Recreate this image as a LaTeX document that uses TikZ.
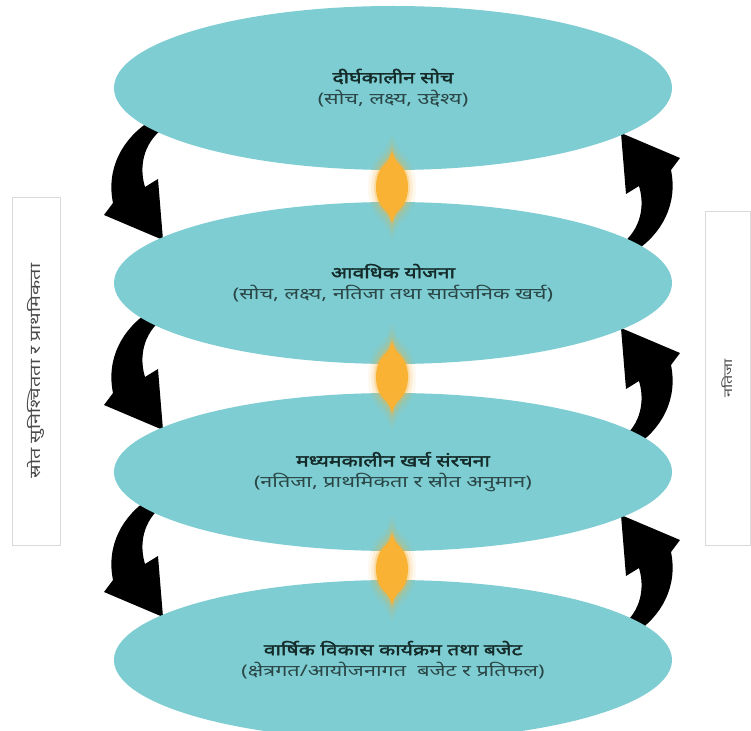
\documentclass[tikz,border=0pt]{standalone}
\usepackage{fontspec}
\newfontfamily\deva[Script=Devanagari, FakeStretch=1.35]{Noto Sans}
\newfontfamily\devab[Script=Devanagari, FakeStretch=1.32, FakeBold=2.2]{Noto Sans}
\usetikzlibrary{shapes.geometric}
\definecolor{ell}{HTML}{7ECDD2}
\definecolor{dia}{HTML}{F9B233}
\definecolor{ttl}{HTML}{142B2A}
\definecolor{subc}{HTML}{2A4646}
\definecolor{boxc}{HTML}{D9D9D9}
\definecolor{sidec}{HTML}{4A4A4A}
\newcommand\sttl[1]{{\color{ttl}\devab\fontsize{12}{16}\selectfont #1}}
\newcommand\ssubt[1]{{\color{subc}\deva\fontsize{12}{16}\selectfont #1}}
\tikzset{
  stage/.style={ellipse, fill=ell, inner sep=0pt, minimum width=418.5pt, align=center,
    font=\deva\fontsize{12}{16}\selectfont},
  sidebox/.style={draw=boxc, line width=0.6pt, rotate=90, inner sep=0pt,
    font=\deva\fontsize{11}{12}\selectfont, text=sidec},
  bendarrow/.pic={\fill[black] (-242,-65) .. controls (-270,-47) and (-286,-17) .. (-279,17)
      -- (-288,29) -- (-229,54) -- (-234,-7) -- (-247,1)
      .. controls (-254,-22) and (-247,-47) .. (-224,-61) -- cycle;},
  diashape/.style={insert path={(0,-36) .. controls (2,-29) and (4,-26) .. (8,-22)
        .. controls (14,-16) and (16,-8) .. (16,0)
        .. controls (16,8) and (14,16) .. (8,22)
        .. controls (4,26) and (2,29) .. (0,36)
        .. controls (-2,29) and (-4,26) .. (-8,22)
        .. controls (-14,16) and (-16,8) .. (-16,0)
        .. controls (-16,-8) and (-14,-16) .. (-8,-22)
        .. controls (-4,-26) and (-2,-29) .. (0,-36) -- cycle}},
  glowdia/.pic={
    \foreach \s/\o in {1.5/0.08,1.3/0.15,1.12/0.3}{
      \fill[dia, opacity=\o, scale=\s, diashape];}
    \fill[dia, diashape];}
}
\begin{document}
\begin{tikzpicture}[x=0.75pt,y=-0.75pt]
\useasboundingbox[fill=white] (0,0) rectangle (751,731);
% side boxes
\node[sidebox, minimum width=261pt, minimum height=36pt] (lbox) at (36,371) {स्रोत सुनिश्चितता र प्राथमिकता};
\node[sidebox, minimum width=250pt, minimum height=33.75pt, font=\deva\fontsize{9}{10}\selectfont] (rbox) at (727.5,378.5) {नतिजा};
% curved arrows
\pic at (392,186) {bendarrow};
\pic at (392,376) {bendarrow};
\pic at (392,563) {bendarrow};
\pic[rotate=180] at (392,187) {bendarrow};
\pic[rotate=180] at (392,382) {bendarrow};
\pic[rotate=180] at (392,569) {bendarrow};
% stages
\node[stage, minimum height=123pt] (e1) at (393,88) {\sttl{दीर्घकालीन सोच}\\\ssubt{(सोच, लक्ष्य, उद्देश्य)}};
\node[stage, minimum height=121.5pt] (e2) at (393,283) {\sttl{आवधिक योजना}\\\ssubt{(सोच, लक्ष्य, नतिजा तथा सार्वजनिक खर्च)}};
\node[stage, minimum height=118.5pt] (e3) at (393,472) {\sttl{मध्यमकालीन खर्च संरचना}\\\ssubt{(नतिजा, प्राथमिकता र स्रोत अनुमान)}};
\node[stage, minimum height=120pt] (e4) at (393,660) {\sttl{वार्षिक विकास कार्यक्रम तथा बजेट}\\\ssubt{(क्षेत्रगत/आयोजनागत\ \ बजेट र प्रतिफल)}};
% double arrows
\pic at (392,187) {glowdia};
\pic at (392,377) {glowdia};
\pic at (392,569) {glowdia};
\end{tikzpicture}
\end{document}
